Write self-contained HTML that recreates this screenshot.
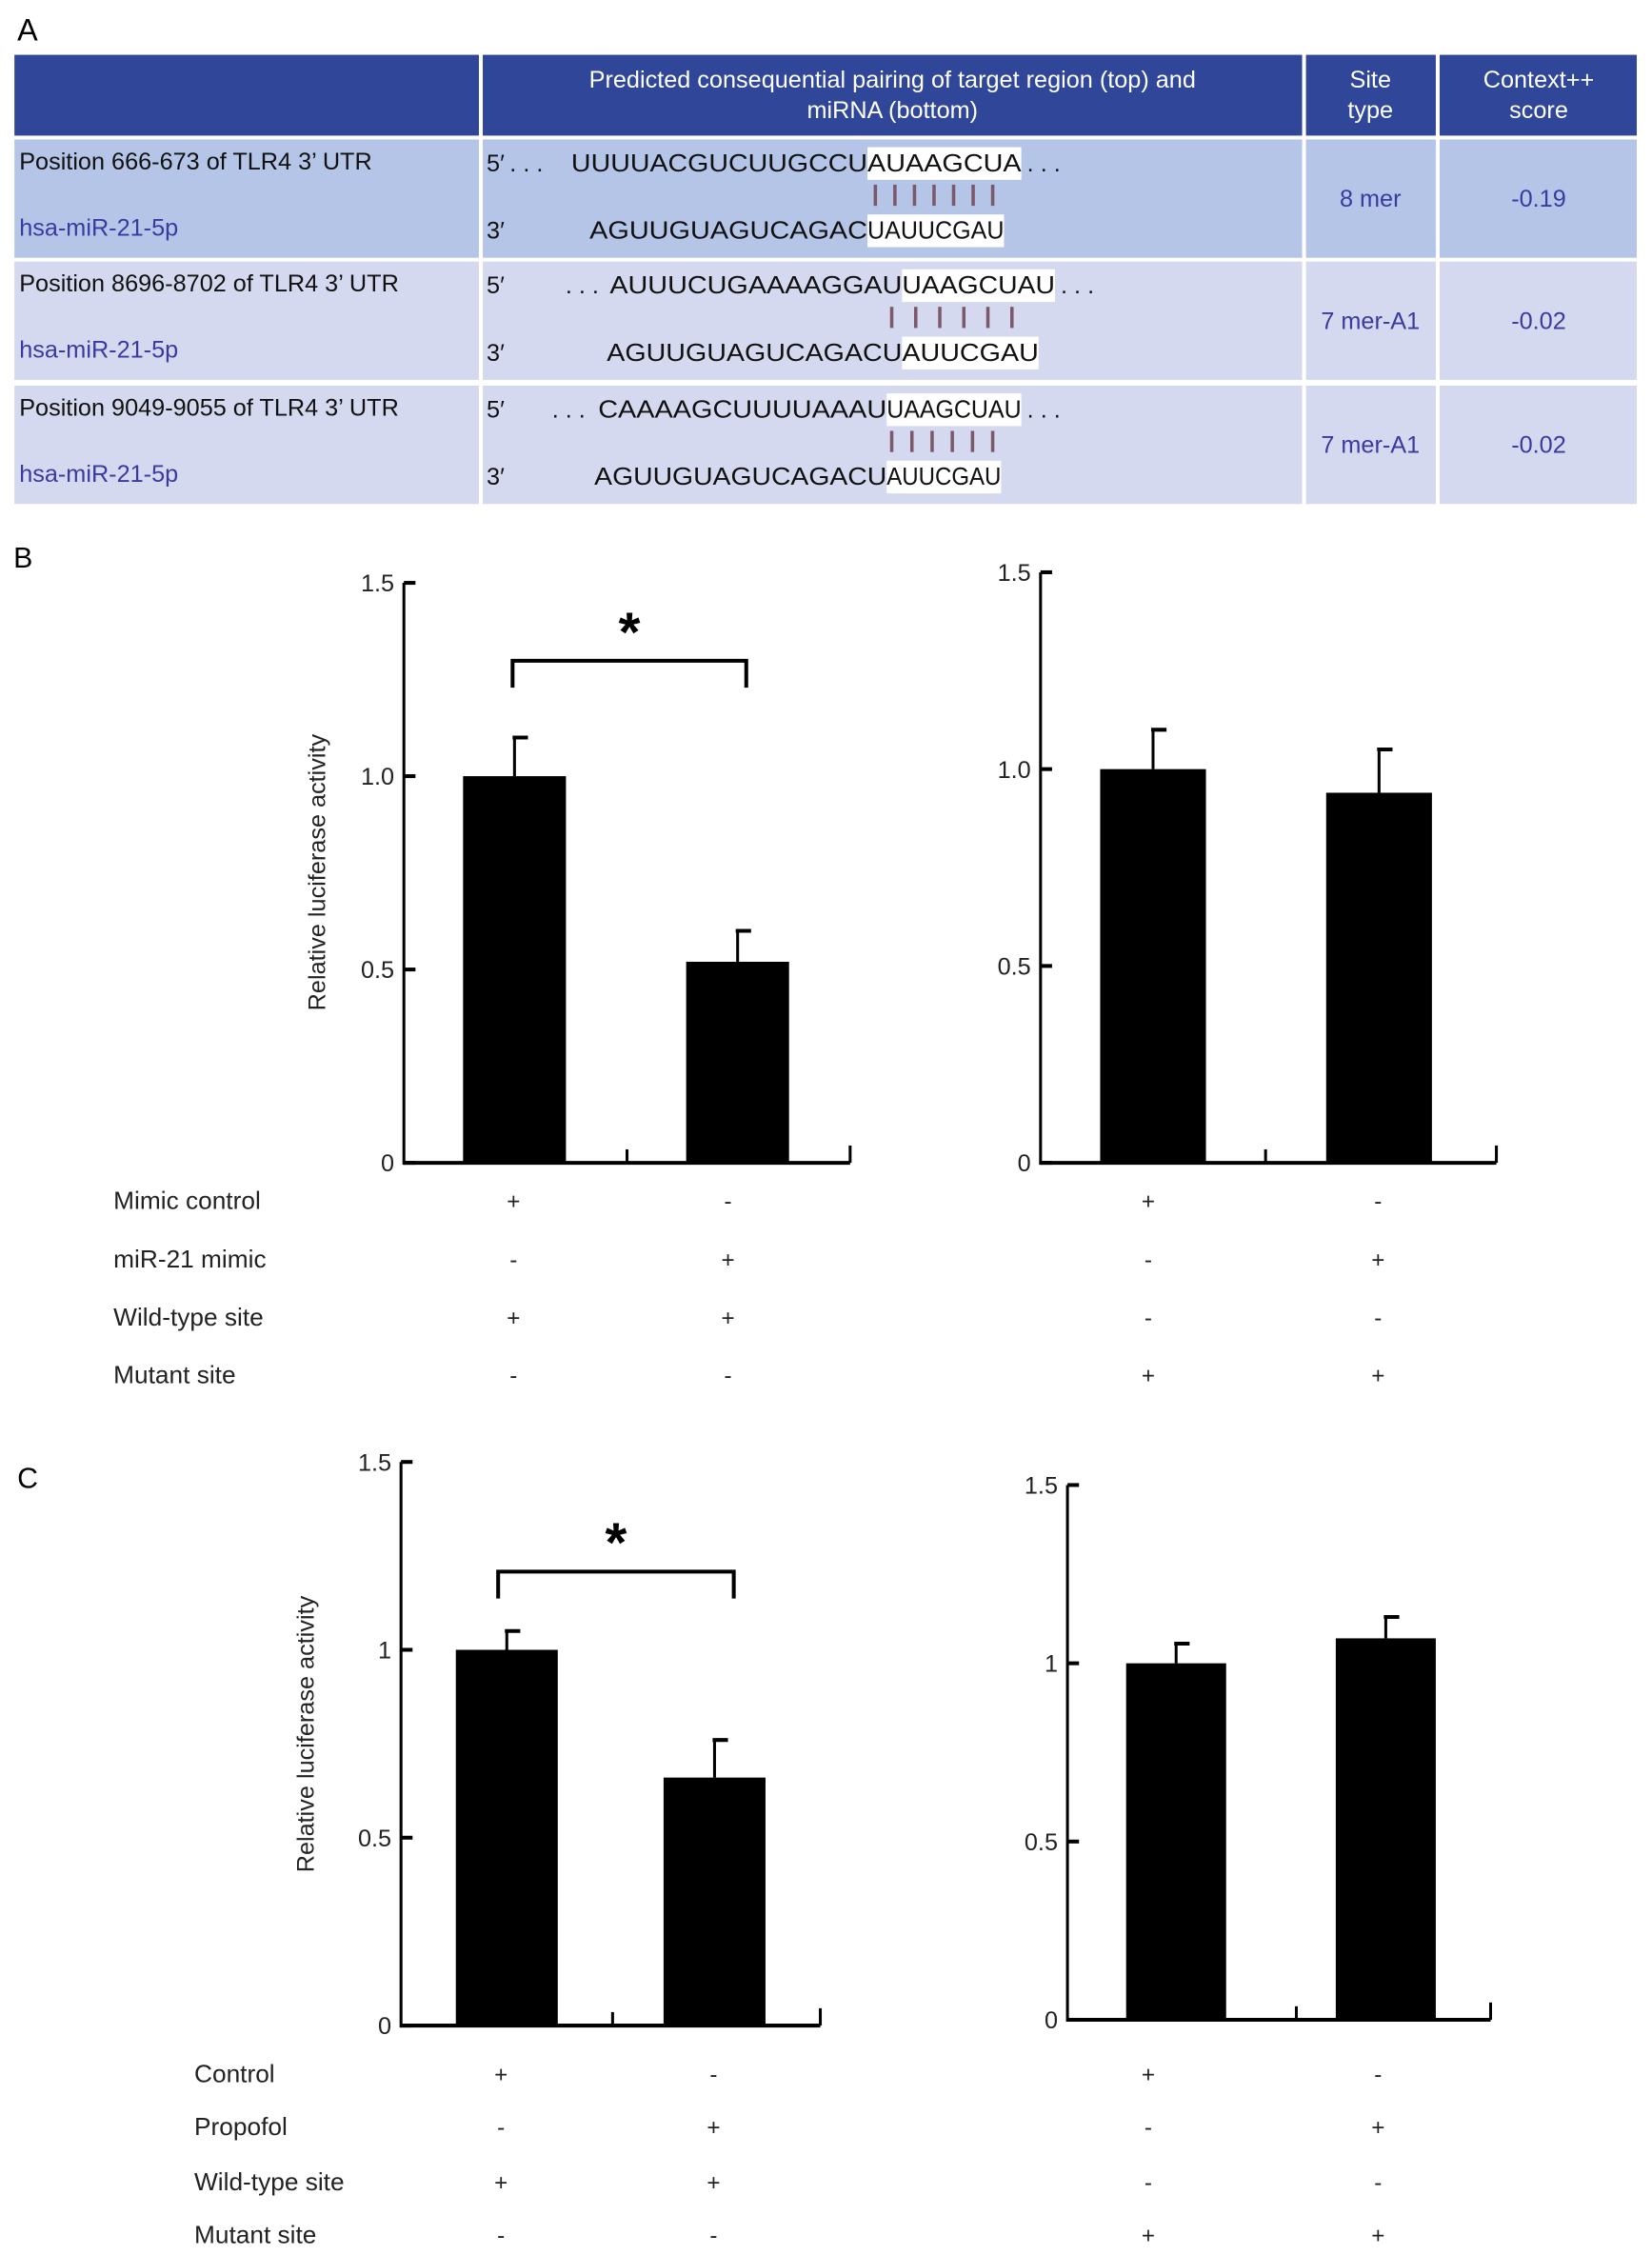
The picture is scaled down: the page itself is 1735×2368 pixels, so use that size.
<!DOCTYPE html>
<html><head><meta charset="utf-8"><style>
body{margin:0;background:#fff}
svg{display:block;font-family:"Liberation Sans",Arial,sans-serif}
</style></head><body>
<svg id="fig" width="1735" height="2368" viewBox="0 0 1735 2368">
<g transform="scale(1.01)">
<text x="18" y="42" font-size="32">A</text>
<g>
<rect x="15" y="57" width="483" height="84" fill="#2f4699"/>
<rect x="502" y="57" width="852" height="84" fill="#2f4699"/>
<rect x="1358" y="57" width="135" height="84" fill="#2f4699"/>
<rect x="1497" y="57" width="205" height="84" fill="#2f4699"/>
<g fill="#fff" font-size="25" text-anchor="middle">
<text x="928" y="91">Predicted consequential pairing of target region (top) and</text>
<text x="928" y="123">miRNA (bottom)</text>
<text x="1425" y="91">Site</text><text x="1425" y="123">type</text>
<text x="1600" y="91">Context++</text><text x="1600" y="123">score</text>
</g>
<g id="rows"></g>
</g>
<text x="14" y="590" font-size="30">B</text>
<text x="18" y="1547" font-size="30">C</text>
<g id="charts"></g>
</g>
</svg>
<script>
const NS='http://www.w3.org/2000/svg';
function mk(tag,attrs,parent,txt){const e=document.createElementNS(NS,tag);for(const k in attrs)e.setAttribute(k,attrs[k]);if(txt!==undefined)e.textContent=txt;parent.appendChild(e);return e;}
// ---- table ----
const rowsG=document.getElementById('rows');
const rowTops=[145,272,401], rowH=123;
const rowFill=['#b4c5e8','#d5d9ef','#d5d9ef'];
const positions=['Position 666-673 of TLR4 3\u2019 UTR','Position 8696-8702 of TLR4 3\u2019 UTR','Position 9049-9055 of TLR4 3\u2019 UTR'];
const siteTypes=['8 mer','7 mer-A1','7 mer-A1'];
const scores=['-0.19','-0.02','-0.02'];
const topSeq=[['UUUUACGUCUUGCCU','AUAAGCUA'],['AUUUCUGAAAAGGAU','UAAGCUAU'],['CAAAAGCUUUUAAAU','UAAGCUAU']];
const botSeq=[['AGUUGUAGUCAGAC','UAUUCGAU'],['AGUUGUAGUCAGACU','AUUCGAU'],['AGUUGUAGUCAGACU','AUUCGAU']];
const geo=[{dot:530,ts:594,hs:902,he:1062,bs:613,bh:902,be:1044,b0:910,b1:1032,n:7},
{dot:588,ts:634,hs:938,he:1097,bs:631,bh:938,be:1080,b0:927,b1:1052,n:6},
{dot:574,ts:622,hs:922,he:1062,bs:618,bh:922,be:1041,b0:927,b1:1032,n:6}];
rowTops.forEach((t,i)=>{
  const cols=[[15,483],[502,852],[1358,135],[1497,205]];
  cols.forEach(c=>{const r=mk('rect',{x:c[0],y:t,width:c[1],height:rowH,fill:rowFill[i]},rowsG);
    
    });
  const g=geo[i];
  const p=mk('text',{x:20,y:t+31,'font-size':25,fill:'#111'},rowsG,positions[i]);
  
  
  const h=mk('text',{x:20,y:t+100,'font-size':25,fill:'#3a3aa0'},rowsG,'hsa-miR-21-5p');
  
  
  mk('text',{x:506,y:t+33,'font-size':25,fill:'#111'},rowsG,'5\u2032');
  mk('text',{x:506,y:t+103,'font-size':25,fill:'#111'},rowsG,'3\u2032');
  mk('rect',{x:g.hs,y:t+8,width:g.he-g.hs,height:34,fill:'#fff'},rowsG);
  mk('rect',{x:g.bh,y:t+78,width:g.be-g.bh,height:34,fill:'#fff'},rowsG);
  mk('text',{x:g.dot,y:t+33,'font-size':25,fill:'#111'},rowsG,'. . .');
  const s1=mk('text',{x:g.ts,y:t+33,'font-size':26,fill:'#111',textLength:g.hs-g.ts,lengthAdjust:'spacingAndGlyphs'},rowsG,topSeq[i][0]);
  
  
  mk('text',{x:g.hs,y:t+33,'font-size':26,fill:'#111',textLength:g.he-g.hs,lengthAdjust:'spacingAndGlyphs'},rowsG,topSeq[i][1]);
  mk('text',{x:g.he+6,y:t+33,'font-size':25,fill:'#111'},rowsG,'. . .');
  const s2=mk('text',{x:g.bs,y:t+103,'font-size':26,fill:'#111',textLength:g.bh-g.bs,lengthAdjust:'spacingAndGlyphs'},rowsG,botSeq[i][0]);
  
  
  mk('text',{x:g.bh,y:t+103,'font-size':26,fill:'#111',textLength:g.be-g.bh,lengthAdjust:'spacingAndGlyphs'},rowsG,botSeq[i][1]);
  for(let k=0;k<g.n;k++){const x=g.b0+k*(g.b1-g.b0)/(g.n-1);
    mk('rect',{x:x-1.5,y:t+47,width:3.5,height:22,fill:'#7a5a6a'},rowsG);}
  const st=mk('text',{x:1425,y:t+70,'font-size':25,fill:'#3a3aa0','text-anchor':'middle'},rowsG,siteTypes[i]);
  
  
  const sc=mk('text',{x:1600,y:t+70,'font-size':25,fill:'#3a3aa0','text-anchor':'middle'},rowsG,scores[i]);
  
  
});
// ---- charts data ----
const bValuesLeft=[1.0,0.52];
const bErrorsLeft=[0.10,0.08];
const bValuesRight=[1.0,0.94];
const bErrorsRight=[0.10,0.11];
const cValuesLeft=[1.0,0.66];
const cErrorsLeft=[0.05,0.10];
const cValuesRight=[1.0,1.07];
const cErrorsRight=[0.055,0.06];
const bTickLabels=['0','0.5','1.0','1.5'];
const cTickLabels=['0','0.5','1','1.5'];
const tickValues=[0,0.5,1.0,1.5];
const bRowLabels=['Mimic control','miR-21 mimic','Wild-type site','Mutant site'];
const cRowLabels=['Control','Propofol','Wild-type site','Mutant site'];
const bSigns=[['+','-','+','-'],['-','+','-','+'],['+','+','-','-'],['-','-','+','+']];
const cSigns=[['+','-','+','-'],['-','+','-','+'],['+','+','-','-'],['-','-','+','+']];
const CG=document.getElementById('charts');
function chart(o){
  const g=mk('g',{},CG);
  
  
  const y=v=>o.y0-(o.y0-o.y15)*v/1.5;
  const bw=o.bw;
  mk('line',{x1:o.ax,y1:o.y15,x2:o.ax,y2:o.y0+2,stroke:'#000','stroke-width':3},g);
  mk('line',{x1:o.ax,y1:o.y0,x2:o.xe,y2:o.y0,stroke:'#000','stroke-width':4},g);
  mk('line',{x1:o.mid,y1:o.y0,x2:o.mid,y2:o.y0-14,stroke:'#000','stroke-width':3},g);
  mk('line',{x1:o.xe,y1:o.y0,x2:o.xe,y2:o.y0-18,stroke:'#000','stroke-width':3},g);
  tickValues.forEach((v,i)=>{
    mk('line',{x1:o.ax,y1:y(v),x2:o.ax+12,y2:y(v),stroke:'#000','stroke-width':4},g);
    const t=mk('text',{x:o.ax-10,y:y(v)+9,'font-size':25,'text-anchor':'end',fill:'#222'},g,o.ticks[i]);
    
    
  });
  o.vals.forEach((v,i)=>{
    const cx=o.cx[i];
    const r=mk('rect',{x:cx-bw/2,y:y(v),width:bw,height:o.y0-y(v),fill:'#000'},g);
    
    
    const e=mk('line',{x1:cx,y1:y(v),x2:cx,y2:y(v+o.errs[i]),stroke:'#000','stroke-width':3},g);
    
    
    mk('line',{x1:cx-2,y1:y(v+o.errs[i]),x2:cx+14,y2:y(v+o.errs[i]),stroke:'#000','stroke-width':4},g);
  });
  if(o.ylab){const t=mk('text',{x:0,y:0,'font-size':25,fill:'#222','text-anchor':'middle',transform:`translate(${o.ylab[0]},${o.ylab[1]}) rotate(-90)`},g,'Relative luciferase activity');
    
    }
  if(o.br){const b=o.br;
    const p=mk('path',{d:`M${b[0]},${b[3]} V${b[2]} H${b[1]} V${b[3]}`,fill:'none',stroke:'#000','stroke-width':4},g);
    
    
    const s=mk('text',{x:(b[0]+b[1])/2,y:b[2]-10,'font-size':58,'font-weight':'bold','text-anchor':'middle'},g,'*');
    
    }
}
chart({name:'chart-b-left',ax:420,y15:606,y0:1209,xe:884,mid:652,cx:[535,767],bw:107,vals:bValuesLeft,errs:bErrorsLeft,ticks:bTickLabels,ylab:[338,907],br:[533,776,687,715]});
chart({name:'chart-b-right',ax:1082,y15:595,y0:1209,xe:1556,mid:1316,cx:[1199,1434],bw:110,vals:bValuesRight,errs:bErrorsRight,ticks:bTickLabels});
chart({name:'chart-c-left',ax:417,y15:1520,y0:2106,xe:853,mid:637,cx:[527,743],bw:106,vals:cValuesLeft,errs:cErrorsLeft,ticks:cTickLabels,ylab:[326,1803],br:[518,763,1634,1662]});
chart({name:'chart-c-right',ax:1110,y15:1544,y0:2100,xe:1550,mid:1348,cx:[1223,1441],bw:104,vals:cValuesRight,errs:cErrorsRight,ticks:cTickLabels});
function conds(labels,signs,lx,ys,cols,name){
  const g=mk('g',{},CG);
  
  
  labels.forEach((l,i)=>{
    const t=mk('text',{x:lx,y:ys[i]+9,'font-size':26,fill:'#222'},g,l);
    
    
    signs[i].forEach((s,j)=>{mk('text',{x:cols[j],y:ys[i]+9,'font-size':24,'text-anchor':'middle',fill:'#222'},g,s);});
  });
}
conds(bRowLabels,bSigns,118,[1248,1309,1369,1429],[534,757,1194,1433],'conditions-b');
conds(cRowLabels,cSigns,202,[2156,2211,2268,2323],[521,742,1194,1433],'conditions-c');
</script>
</body></html>
